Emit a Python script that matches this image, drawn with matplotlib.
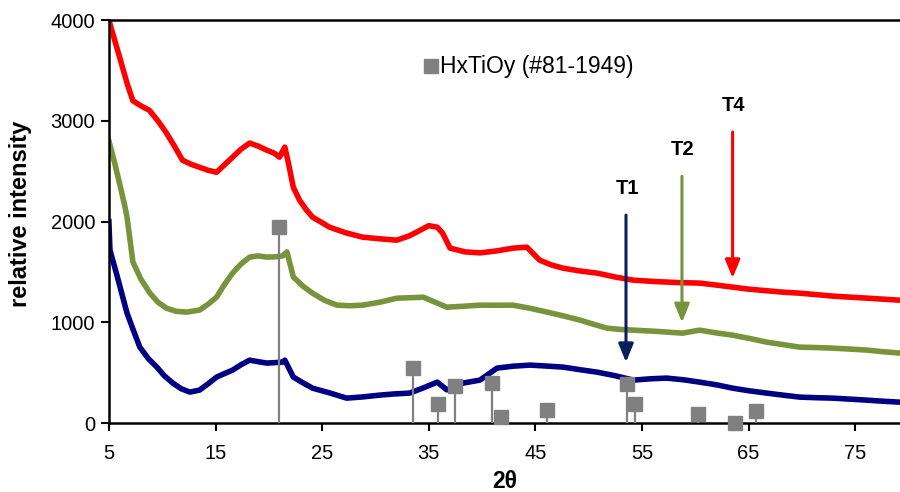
import matplotlib.pyplot as plt

plt.rcParams['font.family'] = ['Liberation Sans', 'DejaVu Sans']

# readings of the three patterns (2theta, intensity)
t4_x = [5.0, 5.6, 6.2, 6.7, 7.25, 8.0, 8.8, 9.6, 10.4, 11.2, 11.9, 12.7, 13.5, 14.3, 15.1, 15.8,
        16.6, 17.4, 18.2, 19.0, 19.8, 20.5, 21.0, 21.5, 21.8, 22.3, 22.9, 23.5, 24.1, 25.7, 27.2,
        28.8, 30.4, 32.0, 33.2, 34.2, 35.0, 35.8, 36.3, 37.0, 38.4, 39.8, 41.4, 42.9, 44.2, 45.4,
        46.5, 47.6, 49.2, 50.8, 52.5, 54.2, 56.3, 58.4, 60.4, 62.0, 63.5, 65.0, 66.6, 68.2, 69.8,
        71.4, 73.0, 74.6, 76.2, 77.7, 79.2]
t4_y = [4000, 3780, 3560, 3375, 3200, 3150, 3105, 3000, 2880, 2740, 2610, 2570, 2540, 2510, 2490, 2560,
        2640, 2720, 2780, 2750, 2710, 2680, 2640, 2740, 2600, 2340, 2210, 2120, 2045, 1945, 1890,
        1846, 1830, 1816, 1860, 1915, 1960, 1945, 1886, 1737, 1700, 1690, 1710, 1737, 1747, 1618,
        1570, 1538, 1510, 1489, 1450, 1419, 1405, 1395, 1390, 1370, 1350, 1330, 1315, 1300, 1290,
        1275, 1260, 1250, 1240, 1230, 1220]

t2_x = [5.0, 5.5, 6.0, 6.5, 6.7, 7.25, 8.0, 8.85, 9.6, 10.4, 11.3, 12.3, 13.5, 14.3, 15.1, 15.8,
        16.6, 17.4, 18.2, 19.0, 19.8, 20.5, 21.3, 21.7, 22.3, 23.2, 24.1, 25.2, 26.4, 27.6, 28.8,
        30.4, 32.0, 33.3, 34.5, 35.6, 36.7, 38.2, 39.8, 41.4, 42.9, 44.5, 46.1, 47.6, 49.2, 50.5,
        51.7, 53.0, 54.2, 56.5, 58.8, 60.4, 62.0, 63.5, 65.1, 66.7, 68.2, 69.8, 71.4, 72.9, 74.5,
        76.1, 77.5, 79.2]
t2_y = [2800, 2600, 2380, 2150, 2045, 1600, 1430, 1290, 1200, 1141, 1110, 1102, 1122, 1180, 1250, 1370,
        1489, 1580, 1648, 1660, 1648, 1650, 1660, 1700, 1450, 1360, 1290, 1220, 1171, 1165, 1171,
        1200, 1240, 1245, 1250, 1200, 1151, 1160, 1171, 1170, 1171, 1140, 1102, 1065, 1022, 980,
        943, 930, 923, 910, 893, 923, 895, 873, 840, 804, 780, 754, 750, 744, 735,
        725, 710, 695]

t1_x = [5.0, 5.1, 5.7, 6.2, 6.7, 7.3, 7.9, 8.7, 9.5, 10.2, 11.0, 11.8, 12.6, 13.5, 14.3, 15.1,
        15.8, 16.6, 17.4, 18.2, 19.0, 19.8, 20.5, 21.3, 21.5, 22.3, 23.2, 24.1, 25.7, 27.3, 28.8,
        30.4, 31.8, 33.2, 34.5, 35.8, 36.7, 38.2, 39.8, 41.4, 42.9, 44.5, 46.1, 47.6, 49.2, 50.8,
        52.5, 54.2, 55.8, 57.3, 58.9, 60.4, 62.0, 63.5, 65.1, 66.7, 68.2, 69.8, 71.4, 72.9, 74.5,
        76.1, 77.5, 79.2]
t1_y = [2000, 1717, 1489, 1290, 1092, 920, 754, 640, 556, 470, 397, 340, 308, 328, 390, 457,
        490, 526, 580, 625, 610, 596, 600, 606, 625, 457, 400, 347, 300, 248, 260,
        278, 290, 298, 350, 407, 330, 397, 427, 546, 565, 576, 566, 556, 530, 506,
        470, 427, 440, 447, 430, 407, 380, 347, 320, 298, 278, 258, 252, 248, 238,
        228, 218, 208]

# reference pattern HxTiOy (#81-1949)
ref_x = [21.0, 33.5, 35.9, 37.5, 40.9, 41.8, 46.1, 53.6, 54.3, 60.3, 63.7, 65.7]
ref_y = [1950, 546, 189, 367, 397, 60, 129, 387, 189, 89, 0, 119]

# arrows: label, x, top, tip
arrow_labels = ['T1', 'T2', 'T4']
arrow_x = [53.5, 58.75, 63.5]
arrow_top = [2065, 2450, 2890]
arrow_tip = [605, 1000, 1440]

red = '#FF0000'
green = '#77933C'
navy = '#000080'
arrow_colors = ['#0B1F5C', green, red]

fig = plt.figure(figsize=(9, 4.92), dpi=100)
ax = fig.add_axes([0.121, 0.140, 0.879, 0.819])

ax.plot(t4_x, t4_y, color=red, lw=4, solid_joinstyle='round')
ax.plot(t2_x, t2_y, color=green, lw=4, solid_joinstyle='round')
ax.plot(t1_x, t1_y, color=navy, lw=4, solid_joinstyle='round')

ax.vlines(ref_x, 0, ref_y, color='#808080', lw=1.6, zorder=4)
ax.plot(ref_x, ref_y, ls='none', marker='s', ms=10, color='#808080', zorder=5, clip_on=False)

for lab, x, top, tip, c in zip(arrow_labels, arrow_x, arrow_top, arrow_tip, arrow_colors):
    ax.annotate('', xy=(x, tip), xytext=(x, top),
                arrowprops=dict(arrowstyle='-|>,head_width=0.45,head_length=1.1', color=c, lw=2.2,
                                shrinkA=0, shrinkB=0))
    ax.text(x + 0.1, top + 170, lab, ha='center', va='bottom', fontsize=14.5, fontweight='bold')

# legend entry
ax.plot([35.2], [3543], ls='none', marker='s', ms=10, color='#808080')
ax.text(36.1, 3543, 'HxTiOy (#81-1949)', va='center', ha='left', fontsize=16.5)

ax.set_xlim(5, 79.2)
ax.set_ylim(0, 4000)
ax.set_xticks(range(5, 80, 10))
ax.set_yticks(range(0, 4001, 1000))
ax.tick_params(direction='out', length=6, width=1.5, labelsize=14.5)
ax.tick_params(axis='x', pad=9)
ax.tick_params(axis='y', pad=4)
for s in ['left', 'bottom', 'top']:
    ax.spines[s].set_linewidth(1.8)
ax.spines['right'].set_visible(False)

ax.set_xlabel('2θ', fontsize=16.5, fontweight='bold', labelpad=5)
ax.set_ylabel('relative intensity', fontsize=17, fontweight='bold')
ax.yaxis.set_label_coords(-0.097, 0.52)

fig.savefig('out.png', dpi=100)
